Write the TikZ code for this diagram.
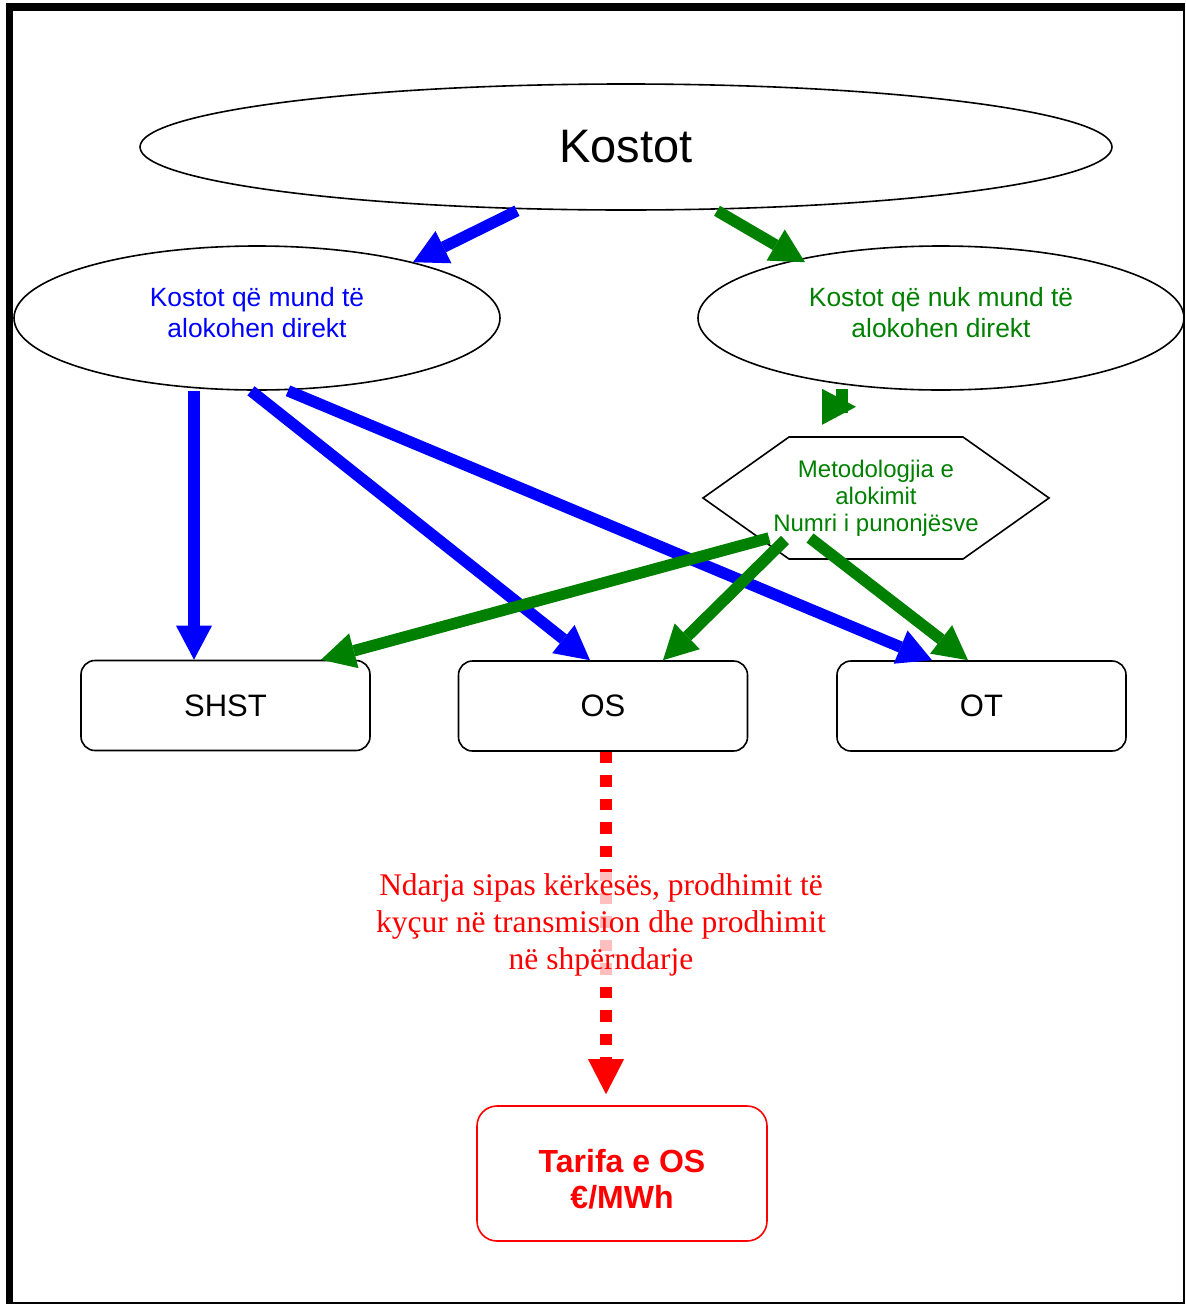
\documentclass[tikz,border=0pt]{standalone}
\usepackage{fontspec}
\setmainfont{Liberation Sans}
\newfontfamily\timesfont{Liberation Serif}
\usetikzlibrary{shapes.geometric,arrows.meta}
\definecolor{kblue}{RGB}{0,0,255}
\definecolor{kgreen}{RGB}{0,128,0}
\definecolor{kred}{RGB}{255,0,0}
\tikzset{ el/.style = { ellipse % cost group
                      , draw
                      , line width = 1.6pt
                      , inner sep = 0pt
                      , align = center
                      }
        , bx/.style = { rectangle % operator box
                      , draw
                      , rounded corners = 14pt
                      , line width = 1.6pt
                      , minimum width = 289pt
                      , minimum height = 90pt
                      , font = \fontsize{31}{36}\selectfont
                      }
        , bl/.style = { draw = kblue % direct
                      , line width = 11.5pt
                      , -{Triangle[length=34pt, width=36pt, line width=0pt]}
                      }
        , gr/.style = { bl % allocated
                      , draw = kgreen
                      }
        , rd/.style = { draw = kred % split
                      , line width = 11.5pt
                      , dash pattern = on 11.5pt off 12pt
                      , -{Triangle[length=35pt, width=36pt, line width=0pt]}
                      }
        }

\begin{document}
\begin{tikzpicture}[x=1pt, y=-1pt]
  \useasboundingbox (0,0) rectangle (1186,1304);
  % frame
  \fill (6,3) rectangle (13,1304);
  \fill (6,3) rectangle (1185,11);
  \draw[line width=1.5pt] (1184.2,11) -- (1184.2,1302.8) -- (13,1302.8);

  \node[el, minimum width=972pt, minimum height=126pt, font=\fontsize{47}{50}\selectfont] (kostot) at (626,147) {Kostot};
  \node[el, minimum width=486pt, minimum height=144pt, text depth=12pt, text=kblue, font=\fontsize{26.4}{31}\selectfont] (direkt) at (257,318) {Kostot që mund të\\alokohen direkt};
  \node[el, minimum width=486pt, minimum height=144pt, text depth=12pt, text=kgreen, font=\fontsize{26.4}{31}\selectfont] (indirekt) at (941,318) {Kostot që nuk mund të\\alokohen direkt};

  \node[rectangle, outer sep=0pt, minimum width=346pt, minimum height=122pt, align=center, text=kgreen, font=\fontsize{24}{27}\selectfont] (metod) at (876,498) {Metodologjia e\\alokimit\\Numri i punonjësve};
  \draw[line width=1.6pt] (metod.west) -- ([xshift=86pt]metod.north west) -- ([xshift=-86pt]metod.north east)
    -- (metod.east) -- ([xshift=-86pt]metod.south east) -- ([xshift=86pt]metod.south west) -- cycle;

  \node[bx] (shst) at (225.5,705.5) {SHST};
  \node[bx] (os) at (603,706) {OS};
  \node[bx] (ot) at (981.5,706) {OT};
  \node[bx, draw=kred, text=kred, rounded corners=20pt, minimum width=290pt, minimum height=135pt, align=center, font=\fontsize{32}{36}\selectfont\bfseries] (tarifa) at (622,1173.5) {\rule{0pt}{34pt}Tarifa e OS\\€/MWh};

  % from the top
  \draw[bl] ([xshift=-109pt]kostot.south) -- ([xshift=156pt,yshift=-17pt]direkt.north);
  \draw[gr] ([xshift=91pt]kostot.south) -- ([xshift=-136pt,yshift=-17pt]indirekt.north);
  \draw[gr] ([xshift=-99pt,yshift=2pt]indirekt.south) -- ++(0,18) -- ++(14,0);

  % direct costs
  \draw[bl] ([xshift=-63pt]direkt.south) -- ([xshift=-31.5pt]shst.north);
  \draw[bl] ([xshift=-6pt]direkt.south) -- ([xshift=-13pt]os.north);
  \draw[bl] ([xshift=31pt]direkt.south) -- ([xshift=-49.5pt]ot.north);

  % allocated costs
  \draw[gr] ([xshift=-107pt,yshift=21pt]metod.south) -- ([xshift=95.5pt]shst.north);
  \draw[gr] ([xshift=-91pt,yshift=19pt]metod.south) -- ([xshift=60pt]os.north);
  \draw[gr] ([xshift=-66pt,yshift=21pt]metod.south) -- ([xshift=-13.5pt]ot.north);

  % tariff
  \draw[rd] ([xshift=3pt]os.south) -- ([xshift=-16pt,yshift=11pt]tarifa.north);
  \node[fill=white, fill opacity=0.75, text opacity=1, text=kred, align=center, inner sep=2pt, font=\timesfont\fontsize{31.5}{37}\selectfont] (ndarja) at (601,925) {Ndarja sipas kërkesës, prodhimit të\\kyçur në transmision dhe prodhimit\\në shpërndarje};
\end{tikzpicture}
\end{document}
